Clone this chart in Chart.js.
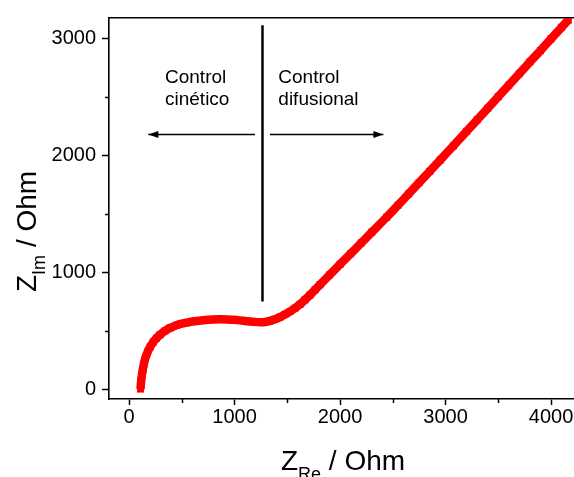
<!DOCTYPE html>
<html><head><meta charset="utf-8">
<script src="https://cdn.jsdelivr.net/npm/chart.js@4"></script>
<style>html,body{margin:0;padding:0;background:#fff;overflow:hidden}#wrap{width:574px;height:477px;position:relative}</style>
</head><body><div id="wrap"><canvas id="c"></canvas></div>
<script>
// Nyquist data (Ohm)
const zRe = [109,111,115,121,130,140,155,175,200,230,260,294,340,389,450,500,547,620,704,800,863,930,989,1050,1115,1180,1242,1290,1336,1383,1431,1478,1526,1574,1621,1668,1716,1763,1810,1900,2000,2100,2200,2300,2443,2550,2650,2750,2850,2950,3074,3200,3300,3400,3500,3600,3700,3800,3900,4000,4100,4164];
const zIm = [0,30,70,115,165,212,265,315,360,402,435,465,497,523,546,559,568,579,588,594,596,595,592,587,580,575,572,574,582,596,615,638,663,692,725,763,805,848,892,975,1066,1157,1248,1340,1470,1572,1668,1765,1861,1958,2079,2203,2302,2400,2499,2598,2697,2796,2894,2993,3092,3155];

const xTickValues = [0,1000,2000,3000,4000];
const yTickValues = [0,1000,2000,3000];
const xMinorTicks = [500,1500,2500,3500];
const yMinorTicks = [500,1500,2500];
const xRange = [-190, 4218];
const yRange = [-85, 3172];

// annotations (data coordinates)
const dividerX = [1265];
const dividerY = [748, 3110];
const arrowY = [2178];
const arrowLeftX = [1194, 183];
const arrowRightX = [1336, 2411];
const noteLeft = ['Control', 'cinético'];
const noteRight = ['Control', 'difusional'];
const noteX = [341, 1415];
const noteY = [2617, 2430];

const FONT = '"Liberation Sans", Arial, sans-serif';
const points = zRe.map((x, i) => ({x: x, y: zIm[i]}));

const minorTicksPlugin = {
  id: 'minorTicks',
  afterDraw(chart) {
    const ctx = chart.ctx, a = chart.chartArea;
    const xs = chart.scales.x, ys = chart.scales.y;
    ctx.save();
    ctx.strokeStyle = '#000';
    ctx.lineWidth = 1.5;
    ctx.beginPath();
    xMinorTicks.forEach(v => {
      const p = Math.round(xs.getPixelForValue(v)) + 0.5;
      ctx.moveTo(p, a.bottom); ctx.lineTo(p, a.bottom + 4);
    });
    yMinorTicks.forEach(v => {
      const p = Math.round(ys.getPixelForValue(v)) + 0.5;
      ctx.moveTo(a.left, p); ctx.lineTo(a.left - 4, p);
    });
    ctx.stroke();
    ctx.restore();
  }
};

function arrow(ctx, x1, y1, x2, y2) {
  ctx.beginPath(); ctx.moveTo(x1, y1); ctx.lineTo(x2, y2); ctx.stroke();
  const dir = Math.sign(x2 - x1);
  ctx.beginPath();
  ctx.moveTo(x2, y2);
  ctx.lineTo(x2 - dir * 10, y2 - 3.5);
  ctx.lineTo(x2 - dir * 10, y2 + 3.5);
  ctx.closePath(); ctx.fill();
}

const annotationPlugin = {
  id: 'notes',
  afterDatasetsDraw(chart) {
    const ctx = chart.ctx;
    const xs = chart.scales.x, ys = chart.scales.y;
    ctx.save();
    ctx.strokeStyle = '#000'; ctx.fillStyle = '#000';
    ctx.lineWidth = 2.5;
    ctx.beginPath();
    ctx.moveTo(xs.getPixelForValue(dividerX[0]), ys.getPixelForValue(dividerY[0]));
    ctx.lineTo(xs.getPixelForValue(dividerX[0]), ys.getPixelForValue(dividerY[1]));
    ctx.stroke();
    ctx.lineWidth = 1.5;
    const ay = Math.round(ys.getPixelForValue(arrowY[0])) + 0.5;
    arrow(ctx, xs.getPixelForValue(arrowLeftX[0]), ay, xs.getPixelForValue(arrowLeftX[1]), ay);
    arrow(ctx, xs.getPixelForValue(arrowRightX[0]), ay, xs.getPixelForValue(arrowRightX[1]), ay);
    ctx.font = '19px ' + FONT;
    ctx.textBaseline = 'alphabetic';
    ctx.textAlign = 'left';
    noteLeft.forEach((t, i) => ctx.fillText(t, xs.getPixelForValue(noteX[0]), ys.getPixelForValue(noteY[i])));
    noteRight.forEach((t, i) => ctx.fillText(t, xs.getPixelForValue(noteX[1]), ys.getPixelForValue(noteY[i])));
    ctx.restore();
  }
};

const titlesPlugin = {
  id: 'titles',
  afterDraw(chart) {
    const ctx = chart.ctx, a = chart.chartArea;
    const big = '28px ' + FONT, small = '18px ' + FONT;
    ctx.save();
    ctx.fillStyle = '#000';
    ctx.textBaseline = 'alphabetic';
    ctx.textAlign = 'left';
    ctx.font = big; const wZ = ctx.measureText('Z').width; const wRest = ctx.measureText(' / Ohm').width;
    ctx.font = small; const wRe = ctx.measureText('Re').width;
    const tot = wZ + wRe + wRest;
    const xCenter = chart.scales.x.getPixelForValue(2000);
    let x0 = xCenter + 3 - tot / 2;
    const yb = a.bottom + 71;
    ctx.font = big; ctx.fillText('Z', x0, yb);
    ctx.font = small; ctx.fillText('Re', x0 + wZ, yb + 10);
    ctx.font = big; ctx.fillText(' / Ohm', x0 + wZ + wRe, yb);
    ctx.font = small; const wIm = ctx.measureText('Im').width;
    ctx.translate(a.left - 73, a.bottom - 107);
    ctx.rotate(-Math.PI / 2);
    ctx.font = big; ctx.fillText('Z', 0, 0);
    ctx.font = small; ctx.fillText('Im', wZ, 9);
    ctx.font = big; ctx.fillText(' / Ohm', wZ + wIm, 0);
    ctx.restore();
  }
};

const plainTick = v => String(v);

new Chart(document.getElementById('c'), {
  type: 'scatter',
  data: {
    datasets: [{
      data: points,
      showLine: true,
      tension: 0.35,
      borderColor: '#ff0000',
      backgroundColor: '#ff0000',
      borderWidth: 8.5,
      borderJoinStyle: 'round',
      pointStyle: 'rect',
      pointRadius: 5,
      pointBorderWidth: 0,
      pointHoverRadius: 5
    }]
  },
  options: {
    responsive: true,
    maintainAspectRatio: false,
    animation: false,
    layout: {padding: 0, autoPadding: false},
    plugins: {legend: {display: false}, tooltip: {enabled: false}},
    scales: {
      x: {
        type: 'linear', position: 'bottom',
        min: xRange[0], max: xRange[1],
        afterBuildTicks: s => { s.ticks = xTickValues.map(v => ({value: v})); },
        afterFit: s => { s.height = 78; s.paddingRight = 0; },
        grid: {drawOnChartArea: false, drawTicks: true, tickLength: 6, tickWidth: 1.5, tickColor: '#000'},
        border: {display: true, color: '#000', width: 1.6},
        ticks: {color: '#000', font: {family: FONT, size: 20}, padding: 0, maxRotation: 0, autoSkip: false, callback: plainTick}
      },
      x2: {
        type: 'linear', position: 'top',
        min: xRange[0], max: xRange[1],
        afterFit: s => { s.height = 15; },
        grid: {display: false, drawTicks: false},
        border: {display: true, color: '#000', width: 1.6},
        ticks: {display: false}
      },
      y: {
        type: 'linear', position: 'left',
        min: yRange[0], max: yRange[1],
        afterBuildTicks: s => { s.ticks = yTickValues.map(v => ({value: v})); },
        afterFit: s => { s.width = 109; },
        grid: {drawOnChartArea: false, drawTicks: true, tickLength: 7, tickWidth: 1.5, tickColor: '#000'},
        border: {display: true, color: '#000', width: 1.6},
        ticks: {color: '#000', font: {family: FONT, size: 20}, padding: 6, autoSkip: false, callback: plainTick}
      }
    }
  },
  plugins: [minorTicksPlugin, annotationPlugin, titlesPlugin]
});
</script>
</body></html>
